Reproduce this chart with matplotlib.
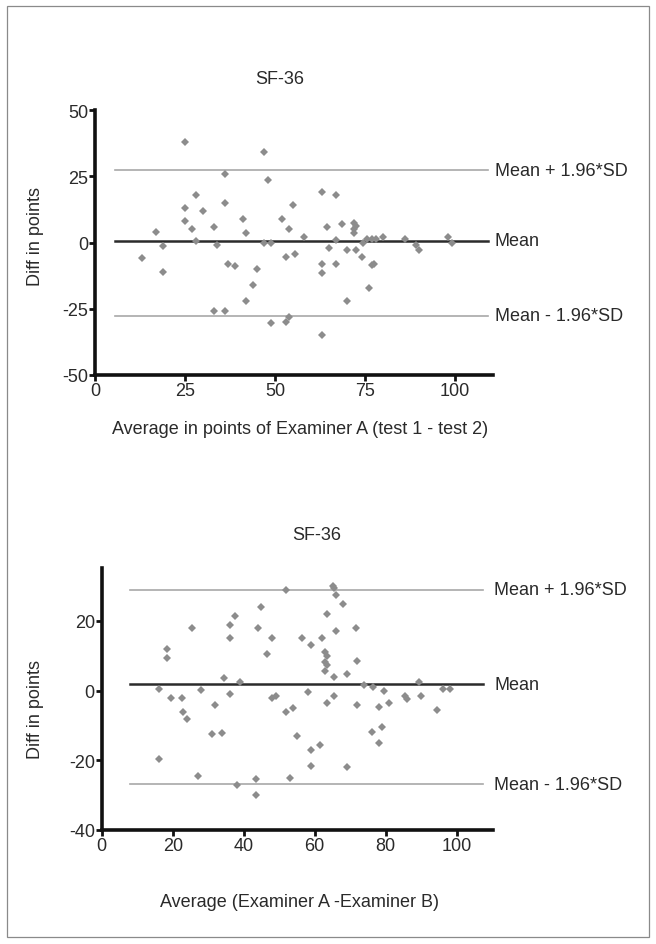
import matplotlib
matplotlib.use("Agg")
import matplotlib.pyplot as plt
from matplotlib.patches import Rectangle

plt.rcParams['font.family'] = ['Liberation Sans', 'DejaVu Sans']
plt.rcParams['axes.unicode_minus'] = False

# ---- data: test-retest (Examiner A) ----
top_avg = [25, 47, 48, 36, 63, 67, 28, 25, 30, 36, 55, 25, 27, 33, 41, 42,
           52, 54, 17, 28, 19, 34, 47, 49, 58, 64.5, 67, 65, 68.5, 72, 72.5,
           72, 72, 70, 72.5, 74, 74.5, 75.5, 77, 78, 80, 86, 89, 90, 98, 99,
           77, 77.5, 76, 70, 63, 63, 67, 13, 19, 37, 39, 45, 53, 55.5, 44,
           42, 33, 36, 49, 53, 54, 63]
top_diff = [38, 34, 23.5, 26, 19, 18, 18, 13, 12, 15, 14, 8, 5, 6, 9, 3.5,
            9, 5, 4, 0.5, -1.5, -1, 0, 0, 2, 6, 1, -2, 7, 7.5, 6.3,
            5, 3.5, -3, -3, -5.5, 0, 1.5, 1.5, 1.5, 2, 1.5, -1, -3, 2, 0,
            -8.5, -8, -17, -22, -8, -11.5, -8, -6, -11, -8, -9, -10, -5.5, -4.5, -16,
            -22, -26, -26, -30.5, -30, -28, -35]
top_mean, top_upper, top_lower = 0.7, 27.3, -27.6

# ---- data: inter-examiner (A vs B) ----
bot_avg = [16, 16, 18.5, 18.5, 19.5, 22.5, 23, 24, 25.5, 27, 28, 31, 34, 32,
           34.5, 36, 36, 36, 37.5, 39, 38, 43.5, 43.5, 44, 45, 46.5, 48, 48,
           49, 52, 54, 52, 53, 55, 56.5, 58, 59, 59, 59, 61.5, 62, 63.5, 63,
           63.5, 63, 63.5, 63, 63.5, 65, 65.5, 66, 68, 66, 65.5, 65.5, 69, 69,
           71.5, 72, 72, 74, 76.5, 76, 78, 79, 78, 79.5, 81, 85.5, 86, 89.5,
           90, 94.5, 96, 98]
bot_diff = [0.5, -19.5, 12, 9.3, -2, -2, -6.2, -8.1, 18, -24.5, 0.3, -12.5, -12.3, -4,
            3.5, -1, 15, 18.7, 21.5, 2.5, -27, -25.5, -30, 18, 24, 10.5, 15, -2,
            -1.5, -6, -5, 29, -25, -13, 15, -0.5, -17, -21.5, 13, -15.5, 15, 22, 11.2,
            10, 8.3, 7.4, 5.7, -3.5, 30, 29.4, 27.5, 25, 17, 4, -1.5, 4.7, -22,
            18, 8.5, -4, 1.6, 1, -12, -15, -10.5, -4.6, 0, -3.5, -1.5, -2.5, 2.4,
            -1.5, -5.7, 0.5, 0.5]
bot_mean, bot_upper, bot_lower = 1.9, 29.0, -26.8

line_labels = ["Mean + 1.96*SD", "Mean", "Mean - 1.96*SD"]

W, H = 656, 945
fig = plt.figure(figsize=(W / 100, H / 100), dpi=100)
fig.patches.append(Rectangle((7 / W, 7 / H), 642 / W, 931 / H, transform=fig.transFigure,
                             fill=False, edgecolor="#8a8a8a", linewidth=0.9))

fs = 13
tc = "#2a2a2a"


def px_axes(left, top, right, bottom):
    return fig.add_axes([left / W, 1 - bottom / H, (right - left) / W, (bottom - top) / H])


def style(ax, xlim, ylim, xticks, yticks):
    ax.set_xlim(*xlim)
    ax.set_ylim(*ylim)
    ax.set_xticks(xticks)
    ax.set_yticks(yticks)
    for s in ["top", "right"]:
        ax.spines[s].set_visible(False)
    for s in ["left", "bottom"]:
        ax.spines[s].set_linewidth(2.6)
        ax.spines[s].set_color("#111111")
    ax.tick_params(direction="out", length=4, width=2, color="#111111",
                   labelsize=fs, labelcolor=tc, pad=1)
    ax.patch.set_alpha(0)


def bland_altman(ax, avg, diff, mean, upper, lower, x0, x1, label_x):
    ax.plot([x0, x1], [upper, upper], color="#a8a8a8", lw=1.2, zorder=1)
    ax.plot([x0, x1], [lower, lower], color="#a8a8a8", lw=1.2, zorder=1)
    ax.plot([x0, x1], [mean, mean], color="#2b2b2b", lw=1.8, zorder=1)
    ax.plot(avg, diff, "D", color="#8c8c8c", markersize=3.8, markeredgewidth=0, zorder=2)
    for val, lab in zip([upper, mean, lower], line_labels):
        ax.text(label_x, val, lab, fontsize=fs, color=tc, va="center", ha="left",
                clip_on=False)


# ---- top panel ----
ax1 = px_axes(95, 111, 493, 376)
style(ax1, (0, 110.5), (-50, 50), [0, 25, 50, 75, 100], [-50, -25, 0, 25, 50])
bland_altman(ax1, top_avg, top_diff, top_mean, top_upper, top_lower, 5.6, 109, 111)
fig.text(280 / W, 1 - 80 / H, "SF-36", fontsize=fs, color=tc, ha="center", va="center")
fig.text(300 / W, 1 - 430 / H, "Average in points of Examiner A (test 1 - test 2)",
         fontsize=fs, color=tc, ha="center", va="center")
fig.text(36 / W, 1 - 237 / H, "Diff in points", fontsize=fs, color=tc,
         rotation=90, ha="center", va="center")

# ---- bottom panel ----
ax2 = px_axes(101.7, 569, 493, 831)
style(ax2, (0, 110.2), (-40, 35.2), [0, 20, 40, 60, 80, 100], [-40, -20, 0, 20])
bland_altman(ax2, bot_avg, bot_diff, bot_mean, bot_upper, bot_lower, 8, 107.5, 110.5)
fig.text(317 / W, 1 - 535 / H, "SF-36", fontsize=fs, color=tc, ha="center", va="center")
fig.text(300 / W, 1 - 903 / H, "Average (Examiner A -Examiner B)",
         fontsize=fs, color=tc, ha="center", va="center")
fig.text(36 / W, 1 - 710 / H, "Diff in points", fontsize=fs, color=tc,
         rotation=90, ha="center", va="center")

fig.savefig("out.png", dpi=100)
